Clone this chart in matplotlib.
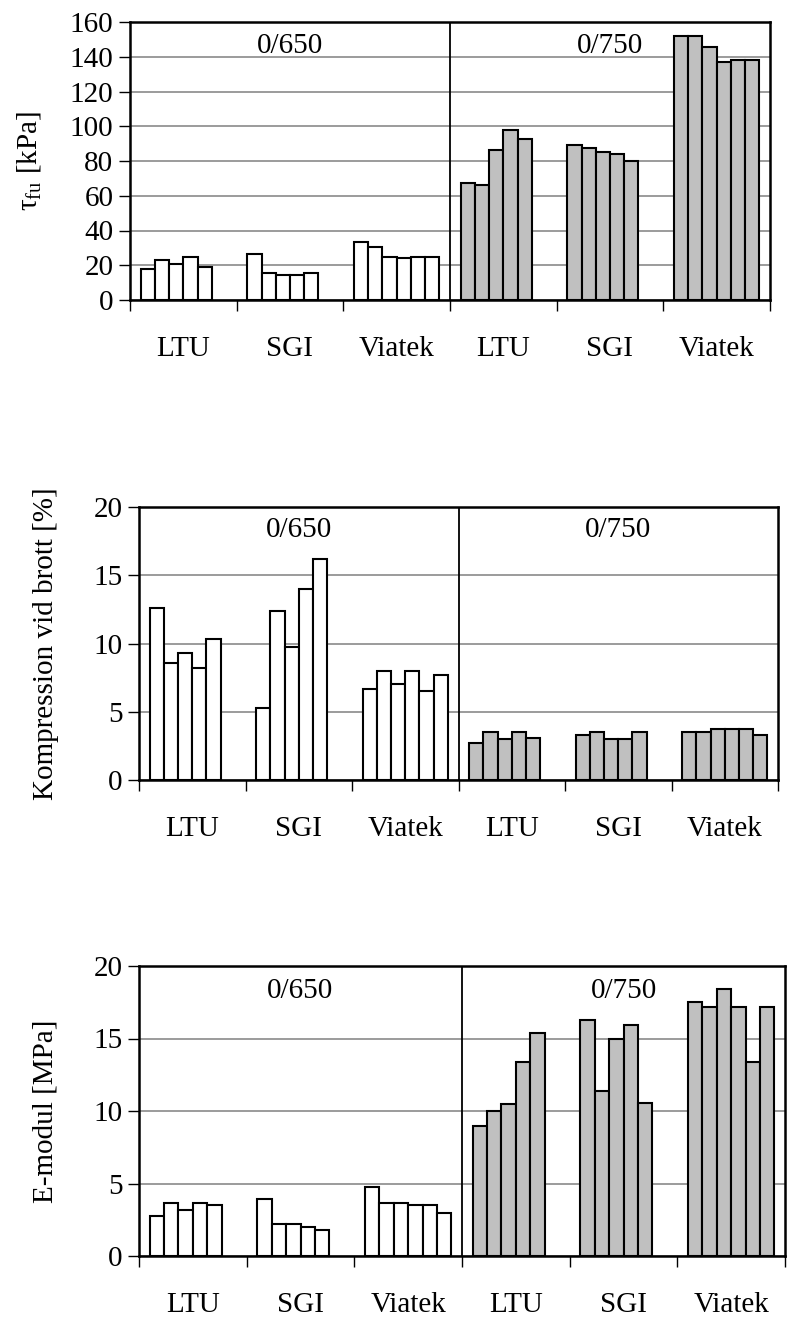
import matplotlib.pyplot as plt
import numpy as np

plt.rcParams['font.family'] = ['Liberation Serif', 'DejaVu Serif']
plt.rcParams['mathtext.fontset'] = 'custom'
plt.rcParams['mathtext.rm'] = 'Liberation Serif'

groups = ["LTU", "SGI", "Viatek", "LTU", "SGI", "Viatek"]
series_labels = ["0/650", "0/750"]

# shear strength tau_fu [kPa]
tau_650 = [[18, 23, 21, 25, 19], [26.4, 15.7, 14.4, 14.4, 15.7], [33.6, 30.3, 25, 24, 25, 25]]
tau_750 = [[67.5, 66.4, 86.3, 97.9, 92.5], [89.4, 87.3, 85.2, 84, 80], [151.7, 151.7, 145.6, 137.2, 138, 138]]

# compression at failure [%]
komp_650 = [[12.6, 8.6, 9.3, 8.2, 10.3], [5.3, 12.4, 9.75, 14.0, 16.2], [6.7, 8.0, 7.0, 8.0, 6.5, 7.7]]
komp_750 = [[2.7, 3.55, 3.0, 3.55, 3.1], [3.3, 3.55, 3.0, 3.0, 3.55], [3.55, 3.55, 3.7, 3.7, 3.7, 3.3]]

# E-modulus [MPa]
emod_650 = [[2.74, 3.67, 3.17, 3.67, 3.55], [3.96, 2.2, 2.2, 1.97, 1.8], [4.77, 3.67, 3.67, 3.55, 3.55, 3.0]]
emod_750 = [[8.94, 10.0, 10.45, 13.4, 15.4], [16.3, 11.4, 15.0, 15.95, 10.55], [17.55, 17.2, 18.4, 17.2, 13.4, 17.2]]

panels = [
    (tau_650, tau_750, 'τ$_{\\mathrm{fu}}$ [kPa]', 160, 20, [130, 300, 640, 278], 30),
    (komp_650, komp_750, 'Kompression vid brott [%]', 20, 5, [139, 780, 639, 273], 45),
    (emod_650, emod_750, 'E-modul [MPa]', 20, 5, [139, 1256, 646, 290], 45),
]

W, H = 789, 1318
fig = plt.figure(figsize=(W / 100, H / 100), dpi=100)

bw = 0.8 / 6
fs = 21

for d650, d750, ylab, ymax, ystep, box, labx in panels:
    x0, y0, w, h = box
    ax = fig.add_axes([x0 / W, 1 - y0 / H, w / W, h / H])

    for k, (data, color) in enumerate([(d650, 'white'), (d750, '#c0c0c0')]):
        for g, vals in enumerate(data):
            cat = 3 * k + g
            xs = cat + 0.1 + bw * np.arange(len(vals))
            ax.bar(xs, vals, width=bw, align='edge', color=color,
                   edgecolor='black', linewidth=1.5, zorder=2)
        ax.text(3 * k + 1.5, ymax * 0.915, series_labels[k], ha='center', va='center', fontsize=fs)

    ax.axvline(3, color='black', lw=1.3, zorder=3)
    ax.set_xlim(0, 6)
    ax.set_ylim(0, ymax)
    ax.set_yticks(np.arange(0, ymax + 1, ystep))
    ax.yaxis.grid(True, color='#808080', lw=1.1)
    ax.set_axisbelow(True)

    ax.set_xticks(np.arange(0, 7))
    ax.set_xticklabels([])
    ax.set_xticks(np.arange(6) + 0.5, minor=True)
    ax.set_xticklabels(groups, minor=True, fontsize=fs)
    ax.tick_params(axis='x', which='major', direction='out', length=8, width=1, color='black')
    ax.tick_params(axis='x', which='minor', length=0, pad=26)
    ax.tick_params(axis='y', direction='out', length=8, width=1, labelsize=fs, pad=4)

    for s in ax.spines.values():
        s.set_linewidth(1.8)

    ax.set_ylabel(ylab, fontsize=fs)
    ax.yaxis.set_label_coords((labx + 14 - x0) / w, 0.5)

fig.savefig('out.png', dpi=100)
